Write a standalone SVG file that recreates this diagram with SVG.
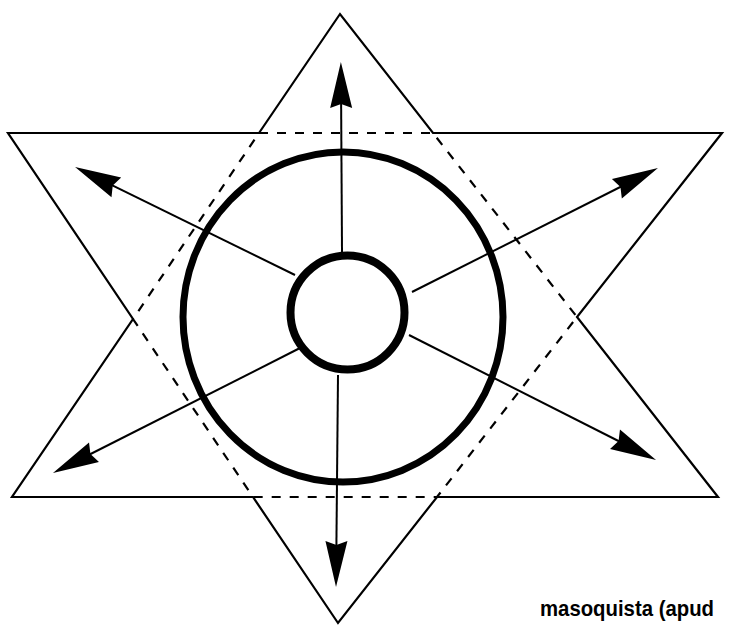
<svg xmlns="http://www.w3.org/2000/svg" width="731" height="630" viewBox="0 0 731 630">
  <style>
    .star { fill: none; stroke: #000; stroke-width: 2.2; stroke-linejoin: miter; }
    .hex { fill: none; stroke: #000; stroke-width: 2.2; stroke-dasharray: 9 9; }
    .ring { fill: none; stroke: #000; stroke-width: 7; }
    .ring-inner { fill: none; stroke: #000; stroke-width: 8; }
    .arrow { stroke: #000; stroke-width: 2; fill: none; marker-end: url(#head); }
    .label { font-family: "Liberation Sans", "DejaVu Sans", sans-serif; font-weight: bold; font-size: 22px; fill: #000; }
  </style>
  <defs>
    <marker id="head" markerUnits="userSpaceOnUse" viewBox="-28 -12 50 24" refX="0" refY="0" markerWidth="50" markerHeight="24" orient="auto" overflow="visible">
      <path d="M20,0 L-26,-11 L-22,0 L-26,11 Z" fill="#000"/>
    </marker>
  </defs>
  <rect width="731" height="630" fill="#fff"/>

  <g id="star">
    <path class="star" d="M8,133 L259,133 L340,14 L433,133 L722,133 L577,317 L718,497 L437,497 L338,623 L253,497 L12,497 L133,319 Z"/>
  </g>
  <g id="hexagon">
    <path class="hex" d="M259,133 L433,133 L577,317 L437,497 L253,497 L133,319 Z"/>
  </g>
  <g id="outer-ring">
    <ellipse class="ring" cx="343" cy="317" rx="160" ry="165"/>
  </g>
  <g id="inner-ring">
    <circle class="ring-inner" cx="347.5" cy="312.5" r="57"/>
  </g>

  <g id="connectors">
    <line class="arrow" x1="342" y1="252" x2="341" y2="82"/>
    <line class="arrow" x1="338" y1="375" x2="336.2" y2="567"/>
    <line class="arrow" x1="295" y1="275" x2="93" y2="175.8"/>
    <line class="arrow" x1="300" y1="348" x2="70.8" y2="464"/>
    <line class="arrow" x1="412" y1="292" x2="640.1" y2="177"/>
    <line class="arrow" x1="409" y1="335" x2="638.2" y2="451"/>
  </g>

  <g id="caption">
    <text class="label" x="540" y="616" textLength="174" lengthAdjust="spacingAndGlyphs">masoquista (apud</text>
  </g>
</svg>
